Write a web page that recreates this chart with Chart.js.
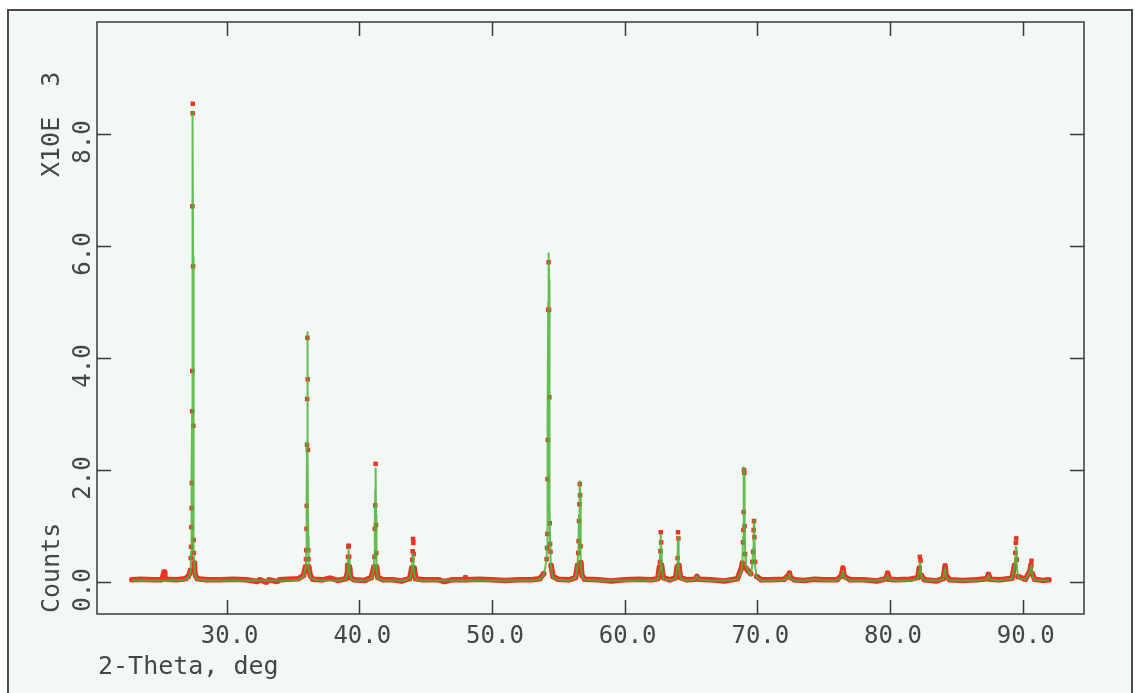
<!DOCTYPE html>
<html>
<head>
<meta charset="utf-8">
<title>2-Theta pattern</title>
<script src="https://cdn.jsdelivr.net/npm/chart.js@4"></script>
<style>
  html, body { margin:0; padding:0; background:#ffffff; width:1138px; height:693px; overflow:hidden; }
  #frame { position:absolute; left:7px; top:9px; width:1122px; height:720px;
           border:2px solid #4a4a4a; background:#f2f8f4; }
  #plot { position:absolute; left:0; top:0; }
</style>
</head>
<body>
<div id="frame"></div>
<canvas id="plot" width="1138" height="693"></canvas>
<script>
// --- Data (counts are in units of 10^3, as on the axis) ---
const twoTheta = [
  22.86,23.5,24.5,25.10,25.22,25.28,25.34,25.45,26.2,26.9,27.10,27.20,
  27.28,27.30,27.32,27.34,27.36,27.38,27.40,27.41,27.42,27.44,27.45,27.47,27.49,27.51,27.53,27.55,27.58,27.65,27.8,
  28.5,29.5,30.5,31.5,32.3,32.5,33.0,33.2,33.8,34.0,34.6,35.4,35.8,35.94,
  35.98,36.00,36.02,36.04,36.06,36.07,36.09,36.11,36.13,36.15,36.17,36.20,36.3,36.5,
  37.2,37.8,38.4,39.0,39.08,39.12,39.15,39.18,39.20,39.23,39.27,39.35,39.6,
  40.4,40.9,41.10,41.14,41.17,41.20,41.23,41.26,41.28,41.31,41.4,41.8,
  42.5,43.2,43.8,43.95,43.99,44.02,44.05,44.07,44.10,44.14,44.25,44.8,
  46.0,46.4,47.0,47.9,48.0,48.1,49.0,50.0,51.0,52.0,53.0,53.6,53.9,
  54.12,54.15,54.17,54.19,54.21,54.24,54.27,54.30,54.32,54.35,54.38,54.41,54.45,54.6,55.0,
  55.8,56.3,56.45,56.50,56.53,56.56,56.59,56.62,56.64,56.67,56.70,56.78,57.0,
  58.0,59.0,60.0,61.0,62.0,62.5,62.62,62.66,62.69,62.72,62.75,62.79,62.9,
  63.4,63.85,63.95,63.99,64.02,64.05,64.09,64.2,64.7,65.3,65.45,65.6,
  66.5,67.5,68.5,68.80,68.87,68.92,68.95,68.97,68.99,69.01,69.04,69.08,69.14,69.3,69.5,
  69.62,69.68,69.72,69.75,69.78,69.83,69.95,70.3,71.0,72.0,72.35,72.42,72.5,72.8,
  73.5,74.3,75.0,76.0,76.35,76.45,76.55,77.0,78.0,79.0,79.7,79.82,79.95,
  80.5,81.5,82.1,82.2,82.25,82.3,82.36,82.6,83.5,84.0,84.1,84.15,84.22,84.5,
  85.5,86.5,87.3,87.42,87.55,88.3,89.2,89.38,89.44,89.48,89.51,89.55,89.65,
  90.2,90.55,90.62,90.66,90.72,90.9,91.5,91.98
];
const obsCounts = [
  0.04,0.05,0.04,0.04,0.12,0.18,0.10,0.05,0.04,0.06,0.10,0.15,
  0.21,0.43,0.63,0.98,1.32,1.77,3.05,3.77,6.71,8.37,8.54,5.64,2.79,0.75,0.52,0.34,0.21,0.12,0.06,
  0.04,0.04,0.05,0.04,0.01,0.04,0.00,0.04,0.01,0.04,0.05,0.06,0.12,0.27,
  0.41,0.57,0.95,1.36,2.45,3.27,4.36,3.62,2.36,0.57,0.41,0.27,0.12,0.05,
  0.04,0.07,0.03,0.06,0.15,0.30,0.45,0.63,0.65,0.45,0.27,0.08,0.04,
  0.03,0.08,0.27,0.45,0.95,1.37,2.11,1.02,0.52,0.27,0.08,0.04,
  0.04,0.02,0.06,0.25,0.40,0.55,0.77,0.70,0.50,0.25,0.06,0.04,
  0.04,0.01,0.04,0.04,0.08,0.04,0.05,0.04,0.03,0.04,0.04,0.06,0.15,
  0.41,0.61,0.86,1.84,2.54,4.86,5.71,4.86,3.30,1.05,0.68,0.54,0.30,0.10,0.05,
  0.04,0.08,0.30,0.52,0.73,1.09,1.39,1.75,1.55,0.64,0.35,0.12,0.05,
  0.04,0.02,0.04,0.05,0.04,0.06,0.27,0.36,0.55,0.89,0.71,0.30,0.08,
  0.04,0.08,0.27,0.43,0.89,0.78,0.30,0.08,0.04,0.05,0.10,0.05,
  0.04,0.02,0.06,0.25,0.34,0.71,0.93,1.25,2.00,1.95,1.00,0.50,0.25,0.20,0.15,
  0.36,0.54,0.93,1.09,0.80,0.36,0.10,0.04,0.04,0.05,0.12,0.16,0.08,0.04,
  0.03,0.05,0.04,0.04,0.12,0.25,0.10,0.04,0.04,0.02,0.06,0.16,0.05,
  0.04,0.05,0.08,0.25,0.45,0.38,0.12,0.04,0.02,0.06,0.20,0.29,0.12,0.04,
  0.03,0.04,0.06,0.14,0.05,0.04,0.07,0.30,0.52,0.70,0.78,0.40,0.10,
  0.05,0.20,0.30,0.38,0.15,0.05,0.03,0.04
];
const calcCounts = [
  0.03,0.03,0.03,0.03,0.03,0.03,0.03,0.03,0.03,0.04,0.08,0.12,
  0.20,0.35,0.55,0.85,1.25,1.95,3.00,4.40,6.90,8.40,8.30,5.80,3.00,1.20,0.60,0.35,0.20,0.10,0.05,
  0.03,0.03,0.03,0.03,0.03,0.03,0.03,0.03,0.03,0.03,0.03,0.04,0.10,0.25,
  0.40,0.60,1.00,1.50,2.50,3.60,4.46,3.60,2.20,0.80,0.40,0.25,0.10,0.05,
  0.03,0.03,0.03,0.05,0.15,0.30,0.45,0.60,0.58,0.40,0.20,0.06,0.03,
  0.03,0.06,0.25,0.50,1.00,1.64,2.03,1.20,0.50,0.25,0.06,0.03,
  0.03,0.03,0.05,0.20,0.35,0.45,0.50,0.45,0.30,0.15,0.05,0.03,
  0.03,0.03,0.03,0.03,0.03,0.03,0.03,0.03,0.03,0.03,0.03,0.05,0.12,
  0.40,0.65,0.90,1.90,2.80,5.00,5.87,5.40,3.50,1.40,0.70,0.45,0.25,0.08,0.04,
  0.03,0.07,0.30,0.55,0.80,1.20,1.50,1.80,1.60,0.80,0.35,0.10,0.04,
  0.03,0.03,0.03,0.03,0.03,0.05,0.20,0.40,0.60,0.84,0.60,0.25,0.06,
  0.03,0.06,0.25,0.50,0.80,0.70,0.30,0.06,0.03,0.04,0.10,0.04,
  0.03,0.03,0.05,0.20,0.35,0.80,1.20,1.70,2.05,1.90,1.10,0.50,0.30,0.20,0.12,
  0.30,0.60,0.90,1.10,0.80,0.30,0.08,0.03,0.03,0.04,0.10,0.14,0.06,0.03,
  0.03,0.05,0.03,0.03,0.10,0.20,0.08,0.03,0.03,0.03,0.05,0.12,0.04,
  0.03,0.03,0.06,0.20,0.36,0.30,0.10,0.03,0.03,0.05,0.18,0.25,0.10,0.03,
  0.03,0.03,0.05,0.12,0.04,0.03,0.06,0.25,0.45,0.63,0.60,0.30,0.08,
  0.04,0.18,0.28,0.30,0.12,0.04,0.03,0.03
];
const xTicks = [30, 40, 50, 60, 70, 80, 90];
const yTicks = [0, 2, 4, 6, 8];
const X_MIN = 20.23, X_MAX = 94.62;
const Y_MIN = -0.57, Y_MAX = 10.0;

// --- Styles ---
const INK = '#464646';
const RED = '#ec3326';
const GREEN = 'rgba(76,178,54,0.85)';
const MONO = '"DejaVu Sans Mono", "Liberation Mono", monospace';

// box, inside ticks and labels drawn from the scales
const framePlugin = {
  id: 'frame',
  afterDraw(chart){
    const {ctx, chartArea:a, scales:{x, y}} = chart;
    ctx.save();
    ctx.strokeStyle = '#3a3a3a'; ctx.lineWidth = 1.5;
    ctx.strokeRect(a.left, a.top, a.right - a.left, a.bottom - a.top);
    const T = 14;
    ctx.beginPath();
    for(const v of xTicks){
      const px = Math.round(x.getPixelForValue(v)) + 0.5;
      ctx.moveTo(px, a.bottom); ctx.lineTo(px, a.bottom - T);
      ctx.moveTo(px, a.top); ctx.lineTo(px, a.top + T);
    }
    for(const v of yTicks){
      const py = Math.round(y.getPixelForValue(v)) + 0.5;
      ctx.moveTo(a.left, py); ctx.lineTo(a.left + T, py);
      ctx.moveTo(a.right, py); ctx.lineTo(a.right - T, py);
    }
    ctx.stroke();

    ctx.fillStyle = INK;
    ctx.font = `24px ${MONO}`;
    ctx.textAlign = 'center'; ctx.textBaseline = 'alphabetic';
    for(const v of xTicks){
      ctx.fillText(v.toFixed(1), x.getPixelForValue(v) + 3, a.bottom + 29);
    }
    for(const v of yTicks){
      ctx.save();
      ctx.translate(a.left - 7, y.getPixelForValue(v) + 8);
      ctx.rotate(-Math.PI/2);
      ctx.fillText(v.toFixed(1), 0, 0);
      ctx.restore();
    }
    // axis titles
    ctx.font = `25px ${MONO}`;
    ctx.textAlign = 'left';
    ctx.fillText('2-Theta, deg', a.left + 1, a.bottom + 60);
    ctx.save();
    ctx.translate(a.left - 38, a.bottom - 1);
    ctx.rotate(-Math.PI/2);
    ctx.fillText('Counts', 0, 0);
    ctx.restore();
    ctx.save();
    ctx.translate(a.left - 38, y.getPixelForValue(Y_MAX) + 155);
    ctx.rotate(-Math.PI/2);
    ctx.fillText('X10E  3', 0, 0);
    ctx.restore();
    ctx.restore();
  }
};

const ctx = document.getElementById('plot').getContext('2d');
new Chart(ctx, {
  type: 'line',
  data: {
    datasets: [
      {
        label: 'Calc',
        data: twoTheta.map((t, i) => ({x: t, y: calcCounts[i]})),
        borderColor: GREEN, borderWidth: 2,
        borderJoinStyle: 'round',
        pointRadius: 0, tension: 0, order: 0
      },
      {
        label: 'Obs',
        data: twoTheta.map((t, i) => ({x: t, y: obsCounts[i]})),
        borderColor: RED, borderWidth: 5.5,
        borderJoinStyle: 'round', borderCapStyle: 'round',
        // only the low background is drawn as a band; peaks stay as dots
        segment: { borderColor: s => (s.p0.parsed.y > 0.35 || s.p1.parsed.y > 0.35) ? 'rgba(0,0,0,0)' : RED },
        pointStyle: 'rect', pointRadius: 3.2, pointBackgroundColor: RED,
        pointBorderWidth: 0, tension: 0, order: 1
      }
    ]
  },
  options: {
    responsive: false,
    animation: false,
    layout: { padding: { left: 97, top: 22, right: 54, bottom: 79 } },
    plugins: { legend: { display: false }, tooltip: { enabled: false } },
    scales: {
      x: { type: 'linear', min: X_MIN, max: X_MAX, display: false },
      y: { type: 'linear', min: Y_MIN, max: Y_MAX, display: false }
    }
  },
  plugins: [framePlugin]
});
</script>
</body>
</html>
